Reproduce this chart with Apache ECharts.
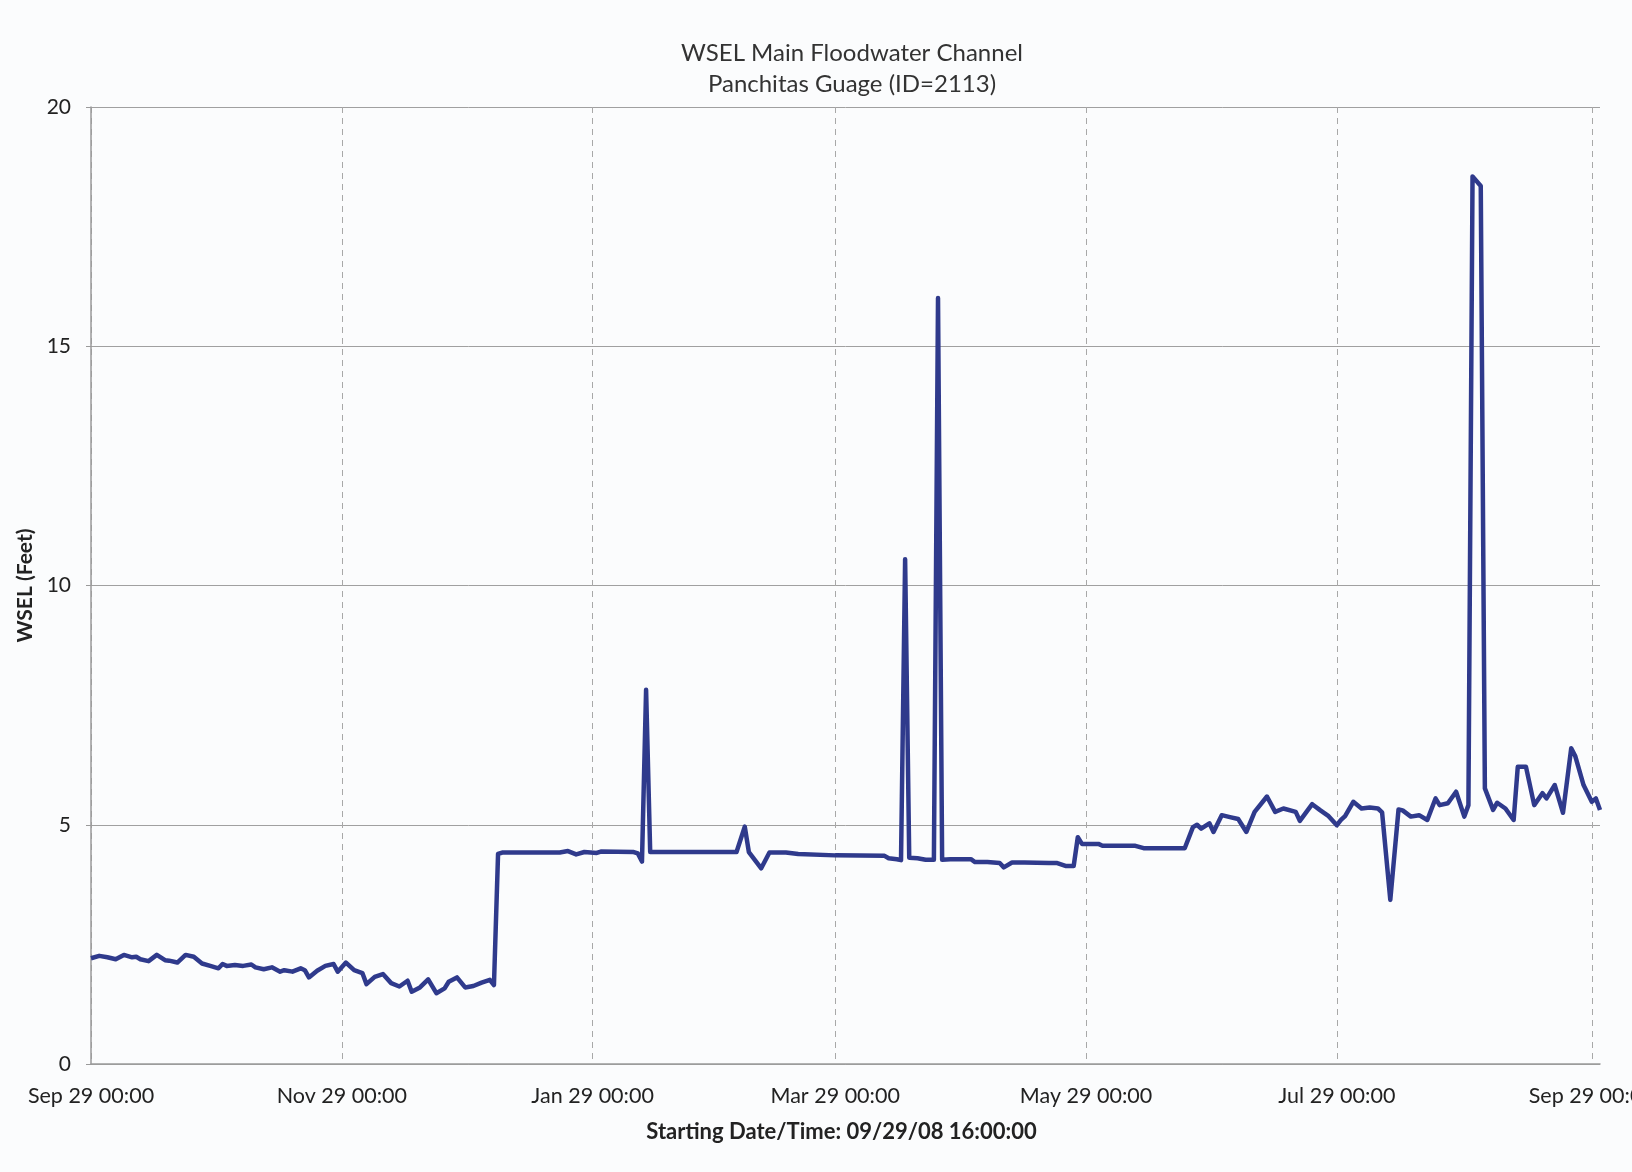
<!DOCTYPE html>
<html>
<head>
    <meta charset="utf-8">
    <title>WSEL Main Floodwater Channel</title>
    <style type="text/css">
        html, body {
            margin: 0;
            padding: 0;
            width: 100%;
            height: 100%;
            background: #fbfcfd;
        }
        #main {
            width: 1632px;
            height: 1172px;
        }
    </style>
</head>
<body>
    <div id="main"></div>
    <script src="https://cdn.jsdelivr.net/npm/echarts@6/dist/echarts.min.js"></script>
    <script>
        // first day of the record, and how many days the x axis runs
        var startYear = 2008, startMonth = 8, startDay = 29;
        var dayCount = 368;
        var monthNames = ['Jan', 'Feb', 'Mar', 'Apr', 'May', 'Jun', 'Jul', 'Aug', 'Sep', 'Oct', 'Nov', 'Dec'];
        // months that get a label on the 29th
        var labelMonths = [8, 10, 0, 2, 4, 6];
        var yTicks = [0, 5, 10, 15, 20];

        // readings: day offset from Sep 29 2008 and WSEL in feet
        var dayIdx = [0, 2, 4, 6, 8, 10, 11, 12, 14, 16, 18, 19, 21, 23, 25, 27, 29, 31, 32, 33,
            35, 37, 39, 40, 42, 44, 46, 47, 49, 51, 52, 53, 55, 57, 59, 60, 62, 64, 66, 67,
            69, 71, 73, 75, 77, 78, 80, 82, 84, 86, 87, 89, 91, 93, 95, 97, 98,
            99, 100, 114, 116, 118, 120, 123, 124, 132, 133, 134, 135, 136, 157, 159, 160, 163, 165, 169, 172, 181, 193, 194, 196,
            197, 198, 199, 201, 203, 205, 206, 207, 209, 214, 215, 218, 221, 222, 224, 227, 233, 235, 237, 239,
            240, 241, 245, 246, 254, 256, 266, 268, 269, 270, 272, 273, 275, 277, 279, 281, 283, 286, 288, 290,
            293, 294, 297, 299, 301, 303, 304, 305, 307, 309, 311, 313, 314, 316, 318, 319, 321, 323, 325, 327,
            328, 330, 332, 334, 335, 336, 338, 339, 341, 342, 344, 346, 347, 349, 351, 353, 354, 356, 358, 360,
            361, 363, 365, 366, 367];
        var wsel = [2.21, 2.26, 2.23, 2.19, 2.28, 2.23, 2.24, 2.19, 2.15, 2.28, 2.17, 2.16, 2.12, 2.28, 2.24, 2.10, 2.05, 2.00, 2.09, 2.05,
            2.07, 2.05, 2.08, 2.02, 1.98, 2.02, 1.93, 1.96, 1.93, 2.00, 1.96, 1.81, 1.95, 2.05, 2.09, 1.93, 2.12, 1.96, 1.90, 1.67,
            1.82, 1.88, 1.69, 1.62, 1.74, 1.51, 1.60, 1.77, 1.48, 1.58, 1.72, 1.81, 1.60, 1.63, 1.70, 1.76, 1.65,
            4.39, 4.42, 4.42, 4.45, 4.38, 4.43, 4.41, 4.44, 4.43, 4.40, 4.23, 7.82, 4.43, 4.43, 4.96, 4.43, 4.09, 4.42, 4.42, 4.39, 4.36, 4.35, 4.30, 4.28,
            4.26, 10.55, 4.31, 4.30, 4.27, 4.27, 16.01, 4.27, 4.28, 4.28, 4.22, 4.22, 4.20, 4.11, 4.21, 4.21, 4.20, 4.20, 4.14, 4.14,
            4.74, 4.60, 4.60, 4.56, 4.56, 4.51, 4.51, 4.95, 5.00, 4.92, 5.03, 4.85, 5.20, 5.16, 5.12, 4.85, 5.27, 5.59, 5.27, 5.34,
            5.27, 5.08, 5.43, 5.30, 5.18, 4.99, 5.10, 5.18, 5.48, 5.34, 5.36, 5.34, 5.26, 3.43, 5.32, 5.30, 5.17, 5.20, 5.10, 5.55,
            5.41, 5.45, 5.69, 5.17, 5.41, 18.55, 18.35, 5.76, 5.31, 5.46, 5.34, 5.10, 6.21, 6.21, 5.41, 5.66, 5.55, 5.83, 5.25, 6.60,
            6.43, 5.83, 5.48, 5.55, 5.31];

        // one category per day
        var days = [];
        for (var i = 0; i < dayCount; i++) {
            days.push(new Date(Date.UTC(startYear, startMonth, startDay + i)));
        }
        var categories = days.map(function (d) {
            return d.toISOString().slice(0, 10);
        });
        var isLabelDay = function (index) {
            var d = days[index];
            return d.getUTCDate() === 29 && labelMonths.indexOf(d.getUTCMonth()) >= 0;
        };

        var seriesData = dayIdx.map(function (d, k) {
            return [d, wsel[k]];
        });

        var font = 'Lato, "Open Sans", sans-serif';
        var myChart = echarts.init(document.getElementById('main'));
        var option = {
            backgroundColor: '#fbfcfd',
            animation: false,
            title: {
                text: 'WSEL Main Floodwater Channel\nPanchitas Guage (ID=2113)',
                left: 847,
                top: 33,
                textAlign: 'center',
                textStyle: {
                    fontFamily: font,
                    fontSize: 24,
                    fontWeight: 'normal',
                    color: '#333333',
                    lineHeight: 31
                }
            },
            grid: {
                left: 91,
                right: 32,
                top: 107,
                bottom: 108,
                outerBoundsMode: 'none',
                containLabel: false
            },
            xAxis: {
                type: 'category',
                data: categories,
                boundaryGap: false,
                name: 'Starting Date/Time: 09/29/08 16:00:00',
                nameLocation: 'middle',
                nameGap: 57,
                nameTextStyle: {
                    fontFamily: font,
                    fontSize: 22,
                    fontWeight: 'bold',
                    color: '#222222',
                    padding: [0, 0, 0, -8]
                },
                axisLine: { lineStyle: { color: '#9a9a9a', width: 1.5 } },
                axisTick: { show: false },
                axisLabel: {
                    interval: isLabelDay,
                    margin: 21,
                    fontFamily: font,
                    fontSize: 21.5,
                    color: '#222222',
                    formatter: function (value) {
                        var d = new Date(value + 'T00:00:00Z');
                        return monthNames[d.getUTCMonth()] + ' ' + d.getUTCDate() + ' 00:00';
                    }
                },
                splitLine: {
                    show: true,
                    interval: isLabelDay,
                    lineStyle: { color: '#a8a8a8', type: [6, 5], width: 1 }
                }
            },
            yAxis: {
                type: 'value',
                min: yTicks[0],
                max: yTicks[yTicks.length - 1],
                interval: yTicks[1] - yTicks[0],
                name: 'WSEL (Feet)',
                nameLocation: 'middle',
                nameGap: 53,
                nameTextStyle: {
                    fontFamily: font,
                    fontSize: 21,
                    fontWeight: 'bold',
                    color: '#222222'
                },
                axisLine: { show: true, lineStyle: { color: '#9a9a9a', width: 1.5 } },
                axisTick: { show: true, length: 5, lineStyle: { color: '#9a9a9a' } },
                axisLabel: {
                    margin: 20,
                    fontFamily: font,
                    fontSize: 21,
                    color: '#222222'
                },
                splitLine: {
                    show: true,
                    lineStyle: { color: '#a0a0a0', width: 1 }
                }
            },
            series: [
                {
                    name: 'WSEL',
                    type: 'line',
                    data: seriesData,
                    showSymbol: false,
                    symbol: 'none',
                    lineStyle: { color: '#2f3a8c', width: 4.5, join: 'round' },
                    itemStyle: { color: '#2f3a8c' }
                }
            ]
        };
        myChart.setOption(option);
    </script>
</body>
</html>
